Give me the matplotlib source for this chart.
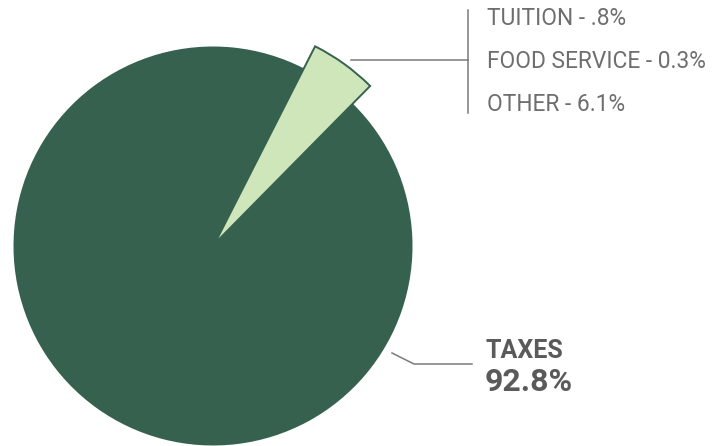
import numpy as np
import matplotlib
matplotlib.use("Agg")
import matplotlib.pyplot as plt

# slice shares as drawn (the light wedge groups tuition, food service, other)
wedge_share = [4.9, 95.1]
dark = "#36614f"
light = "#cfe6bb"

small_labels = ["TUITION - .8%", "FOOD SERVICE - 0.3%", "OTHER - 6.1%"]
big_label = "TAXES"
big_value = "92.8%"

W, H = 722, 446
fig = plt.figure(figsize=(W / 100, H / 100), dpi=100)
ax = fig.add_axes([0, 0, 1, 1])

cx, cy = 213, 200
# base circle (taxes), full dark so no gaps show behind the pulled slice
base, _ = ax.pie(wedge_share, colors=[dark, dark], startangle=45.4,
                 center=(cx, cy), radius=199.5, frame=True,
                 wedgeprops=dict(edgecolor=dark, linewidth=1.0))
base[1].set_linewidth(0)
# pulled-out slice, drawn a bit larger (explode is in data units here)
# first pass gives the outline, second pass fills over its inner half
for lw in (2.8, 0):
    top, _ = ax.pie(wedge_share, colors=[light, dark], startangle=45.4,
                    center=(cx, cy), radius=214, explode=[9.4, 0],
                    frame=True,
                    wedgeprops=dict(edgecolor=dark, linewidth=lw))
    top[1].set_visible(False)
ax.set_xlim(0, W)
ax.set_ylim(0, H)
ax.axis("off")

gray = "#7a7a7a"
# leader to the small items
ax.plot([351, 468], [H - 60, H - 60], color=gray, lw=1.1)
ax.plot([468, 468], [H - 10, H - 113], color=gray, lw=1.1)
for i, s in enumerate(small_labels):
    ax.text(487, H - (18.7 + 43 * i), s, fontsize=16.4, family="Roboto",
            fontweight="normal", color="#6e6e6e", va="center", ha="left")

# leader to taxes
ax.plot([392, 414, 472], [H - 353, H - 364, H - 364], color=gray, lw=1.1)
ax.text(486, H - 351.5, big_label, fontsize=18, family="Roboto",
        fontweight="bold", color="#5a5a5a", va="center", ha="left")
ax.text(485, H - 382, big_value, fontsize=23, family="Roboto",
        fontweight="bold", color="#5a5a5a", va="center", ha="left")

fig.savefig("out.png", dpi=100)
